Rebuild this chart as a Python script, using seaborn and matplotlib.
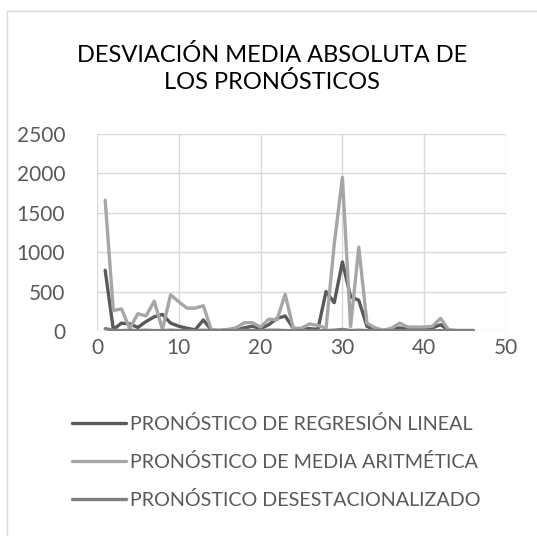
import seaborn as sns
import pandas as pd
import matplotlib.pyplot as plt
from matplotlib.patches import Rectangle

# periods 1..46
periods = list(range(1, 47))

regresion_lineal = [770, 20, 100, 90, 45, 120, 180, 210, 100, 60,
                    35, 15, 140, 10, 5, 10, 10, 40, 60, 30,
                    80, 160, 190, 35, 20, 30, 20, 500, 360, 877,
                    435, 390, 60, 10, 5, 20, 40, 20, 30, 30,
                    40, 80, 10, 5, 5, 5]

media_aritmetica = [1660, 260, 280, 30, 220, 190, 380, 20, 460, 370,
                    290, 290, 320, 10, 10, 20, 40, 105, 105, 50,
                    150, 140, 465, 35, 35, 90, 70, 35, 1100, 1950,
                    55, 1065, 100, 40, 10, 35, 100, 50, 50, 50,
                    60, 160, 10, 5, 5, 5]

desestacionalizado = [30, 10, 5, 10, 5, 10, 5, 5, 10, 5,
                      5, 5, 10, 5, 5, 5, 5, 10, 5, 5,
                      10, 10, 5, 5, 5, 5, 5, 5, 10, 20,
                      5, 10, 5, 5, 5, 5, 5, 5, 5, 5,
                      5, 5, 5, 5, 5, 5]

series_names = ['PRONÓSTICO DE REGRESIÓN LINEAL',
                'PRONÓSTICO DE MEDIA ARITMÉTICA',
                'PRONÓSTICO DESESTACIONALIZADO']
colors = ['#595959', '#A6A6A6', '#7F7F7F']

x_ticks = [0, 10, 20, 30, 40, 50]
y_ticks = [0, 500, 1000, 1500, 2000, 2500]

df = pd.DataFrame({
    'periodo': periods * 3,
    'valor': regresion_lineal + media_aritmetica + desestacionalizado,
    'serie': [series_names[0]] * len(periods)
             + [series_names[1]] * len(periods)
             + [series_names[2]] * len(periods),
})

sns.set_theme(style='white')
plt.rcParams['font.family'] = ['Lato', 'DejaVu Sans']

fig = plt.figure(figsize=(5.37, 5.36), dpi=100)
ax = fig.add_axes([0.1806, 0.3825, 0.7617, 0.3675])

sns.lineplot(data=df, x='periodo', y='valor', hue='serie',
             hue_order=series_names, palette=colors,
             linewidth=2.4, ax=ax, legend=False)

ax.set_xlim(0, 50)
ax.set_ylim(0, 2500)
ax.set_xticks(x_ticks)
ax.set_yticks(y_ticks)
ax.grid(True, color='#D9D9D9', linewidth=1)
ax.set_axisbelow(True)
for s in ax.spines.values():
    s.set_visible(False)
ax.tick_params(axis='both', length=0, labelcolor='#595959', labelsize=15)
ax.tick_params(axis='y', pad=23)
ax.tick_params(axis='x', pad=5)
ax.set_xlabel('')
ax.set_ylabel('')

fig.text(0.507, 0.872, 'DESVIACIÓN MEDIA ABSOLUTA DE\nLOS PRONÓSTICOS',
         ha='center', va='center', fontsize=17, color='#000000',
         linespacing=1.3)

handles = [plt.Line2D([], [], color=c, linewidth=2.4) for c in colors]
fig.legend(handles, series_names, loc='upper left',
           bbox_to_anchor=(0.12, 0.24), frameon=False,
           fontsize=14.2, labelcolor='#595959', handlelength=2.7,
           handletextpad=0.2, labelspacing=1.0, borderaxespad=0)

# chart border
fig.patches.append(Rectangle((7 / 537, -0.05), 1.0, 1 - 11 / 536 + 0.05,
                             transform=fig.transFigure, fill=False,
                             edgecolor='#D9D9D9', linewidth=1))

fig.savefig('out.png', dpi=100)
